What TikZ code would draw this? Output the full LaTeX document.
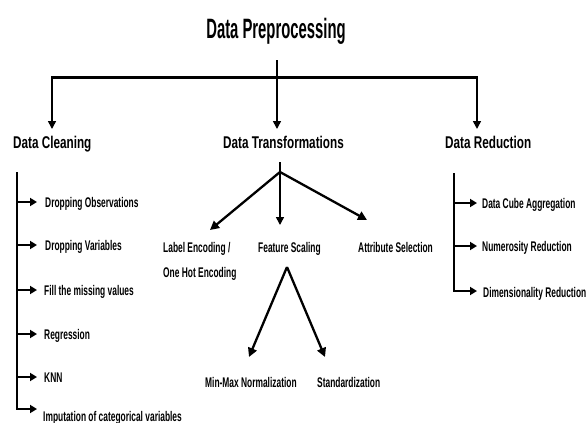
\documentclass[tikz,border=0pt]{standalone}
\usepackage{fontspec}
\setmainfont{Liberation Sans}
\newfontfamily\titlefont{Liberation Sans}[FakeStretch=0.53]
\newfontfamily\headfont{Liberation Sans}[FakeStretch=0.69]
\newfontfamily\itemfont{Liberation Sans}[FakeStretch=0.60]
\usetikzlibrary{arrows.meta}
\begin{document}
\begin{tikzpicture}[x=1pt,y=-1pt,
  titlestyle/.style={font=\titlefont\bfseries\fontsize{28}{30}\selectfont, inner sep=0pt, anchor=base},
  headstyle/.style={font=\headfont\bfseries\fontsize{17}{20}\selectfont, inner sep=0pt, anchor=base west},
  itemstyle/.style={font=\itemfont\bfseries\fontsize{14}{25}\selectfont, inner sep=0pt, anchor=base west},
  conn/.style={line width=1.6pt, -{Triangle[length=8pt,width=8pt]}},
  listarrow/.style={line width=2pt, -{Triangle[length=7pt,width=8pt]}},
  branch/.style={line width=2.3pt, -{Triangle[length=9pt,width=9pt]}},
  barline/.style={line width=2.6pt, line cap=rect},
  spineline/.style={line width=1.8pt}]
\useasboundingbox (0,0) rectangle (587,423);
\clip (0,0) rectangle (587,423);

% headings
\node[titlestyle] (title) at (276,38) {Data Preprocessing};
\node[headstyle] (dc) at (13,148) {Data Cleaning};
\node[headstyle] (dt) at (223,148) {Data Transformations};
\node[headstyle] (dr) at (445,148) {Data Reduction};

% top level connectors
\coordinate (tstem) at (277,60);
\coordinate (barL) at (52,77.5);
\coordinate (barR) at (477,77.5);
\coordinate (dcIn) at (52,129);
\coordinate (dtIn) at (277,129);
\coordinate (drIn) at (477,129);
\draw[barline] (barL) -- (barR);
\draw[conn] (tstem) -- (dtIn);
\draw[conn] (barL) -- (dcIn);
\draw[conn] (barR) -- (drIn);

% Data Cleaning list
\node[itemstyle] (c1) at (45,207) {Dropping Observations};
\node[itemstyle] (c2) at (45,250) {Dropping Variables};
\node[itemstyle] (c3) at (44,295) {Fill the missing values};
\node[itemstyle] (c4) at (44,339) {Regression};
\node[itemstyle] (c5) at (44,382) {KNN};
\node[itemstyle] (c6) at (43,421) {Imputation of categorical variables};
\coordinate (dcS) at (17,172);
\coordinate (a1) at (37,202);
\coordinate (a2) at (37,245);
\coordinate (a3) at (37,290);
\coordinate (a4) at (37,334);
\coordinate (a5) at (37,377);
\coordinate (a6) at (37,409);
\draw[spineline] (dcS) -- (dcS |- a6);
\draw[listarrow] ([xshift=-0.9pt]dcS |- a6) -- (a6);
\foreach \a in {a1,a2,a3,a4,a5} \draw[listarrow] (dcS |- \a) -- (\a);

% Data Transformations
\coordinate (dtS) at (280,162);
\coordinate (dtJ) at (280,172);
\coordinate (leIn) at (210,230);
\coordinate (fsIn) at (280,225);
\coordinate (asIn) at (367,220);
\draw[line width=1.6pt] (dtS) -- (dtJ);
\draw[branch] (dtJ) -- (leIn);
\draw[conn] (dtJ) -- (fsIn);
\draw[branch] (dtJ) -- (asIn);
\node[itemstyle, align=left] (le) at (163,277) {Label Encoding /\\One Hot Encoding};
\node[itemstyle] (fs) at (258,252) {Feature Scaling};
\node[itemstyle] (as) at (358,252) {Attribute Selection};

% Feature scaling branches
\coordinate (fsA) at (287,267);
\coordinate (mmIn) at (249,357);
\coordinate (stIn) at (325,357);
\draw[branch] (fsA) -- (mmIn);
\draw[branch] (fsA) -- (stIn);
\node[itemstyle] (mm) at (205,387) {Min-Max Normalization};
\node[itemstyle] (st) at (317,387) {Standardization};

% Data Reduction list
\node[itemstyle] (r1) at (482,208) {Data Cube Aggregation};
\node[itemstyle] (r2) at (482,251) {Numerosity Reduction};
\node[itemstyle] (r3) at (483,297) {Dimensionality Reduction};
\coordinate (drS) at (454,173);
\coordinate (b1) at (477,203);
\coordinate (b2) at (477,246);
\coordinate (b3) at (477,291);
\draw[spineline] (drS) -- (drS |- b3);
\draw[listarrow] ([xshift=-0.9pt]drS |- b3) -- (b3);
\foreach \b in {b1,b2} \draw[listarrow] (drS |- \b) -- (\b);
\end{tikzpicture}
\end{document}
